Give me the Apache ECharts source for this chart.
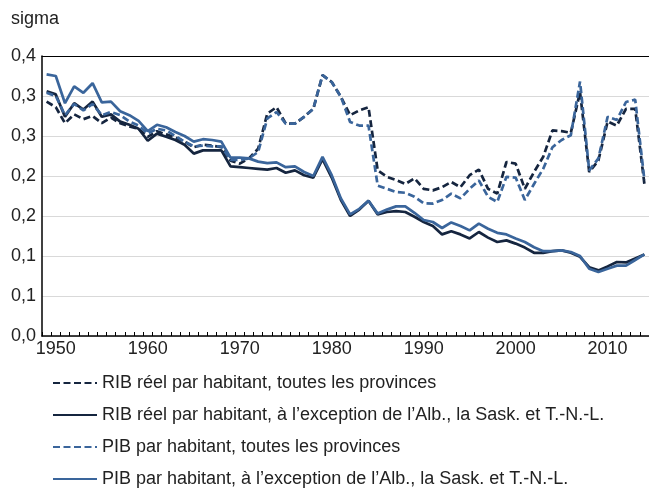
<!DOCTYPE html>
<html>
<head>
<meta charset="utf-8">
<script src="https://cdn.jsdelivr.net/npm/echarts@6/dist/echarts.min.js"></script>
<style>
  html, body { margin: 0; padding: 0; background: #fff; }
  #chart { width: 649px; height: 492px; }
</style>
</head>
<body>
<div id="chart"></div>
<script>
// annees 1949-2014
var years = [];
for (var y = 1949; y <= 2014; y++) { years.push(String(y)); }

// etiquettes de l'axe vertical (arrondies comme dans l'original)
var yLabels = ['0,0', '0,1', '0,1', '0,2', '0,2', '0,3', '0,3', '0,4'];

var seriesNames = [
    'RIB réel par habitant, toutes les provinces',
    'RIB réel par habitant, à l’exception de l’Alb., la Sask. et T.-N.-L.',
    'PIB par habitant, toutes les provinces',
    'PIB par habitant, à l’exception de l’Alb., la Sask. et T.-N.-L.'
];

// RIB reel, toutes les provinces
var ribAll = [
    0.293, 0.286, 0.266, 0.277, 0.271, 0.275, 0.266, 0.273, 0.266, 0.262,
    0.259, 0.249, 0.256, 0.252, 0.248, 0.243, 0.236, 0.239, 0.238, 0.236,
    0.219, 0.2155, 0.222, 0.234, 0.278, 0.286, 0.2655, 0.2655, 0.274, 0.284,
    0.326, 0.3175, 0.299, 0.276, 0.282, 0.286, 0.207, 0.199, 0.195, 0.190,
    0.197, 0.184, 0.182, 0.186, 0.1925, 0.186, 0.201, 0.208, 0.184, 0.178,
    0.2175, 0.2155, 0.184, 0.205, 0.224, 0.257, 0.256, 0.254, 0.305, 0.205,
    0.2195, 0.268, 0.263, 0.284, 0.284, 0.190
];

// RIB reel, sans Alb., Sask., T.-N.-L.
var ribExcl = [
    0.306, 0.302, 0.274, 0.291, 0.283, 0.293, 0.274, 0.277, 0.268, 0.264,
    0.259, 0.244, 0.253, 0.249, 0.245, 0.239, 0.228, 0.232, 0.232, 0.232,
    0.212, 0.211, 0.210, 0.209, 0.208, 0.210, 0.204, 0.207, 0.201, 0.198,
    0.221, 0.198, 0.170, 0.150, 0.158, 0.169, 0.152, 0.155, 0.156, 0.155,
    0.149, 0.1425, 0.1375, 0.127, 0.131, 0.127, 0.122, 0.130, 0.123, 0.1175,
    0.1195, 0.1155, 0.1105, 0.104, 0.104, 0.106, 0.107, 0.104, 0.099, 0.086,
    0.082, 0.087, 0.0925, 0.092, 0.097, 0.102
];

// PIB, toutes les provinces
var pibAll = [
    0.304, 0.300, 0.276, 0.290, 0.282, 0.290, 0.276, 0.280, 0.276, 0.268,
    0.263, 0.253, 0.259, 0.257, 0.250, 0.243, 0.237, 0.238, 0.237, 0.237,
    0.220, 0.220, 0.222, 0.230, 0.272, 0.280, 0.2655, 0.2655, 0.274, 0.284,
    0.326, 0.3175, 0.299, 0.2675, 0.263, 0.263, 0.188, 0.184, 0.180, 0.179,
    0.174, 0.166, 0.1655, 0.170, 0.178, 0.172, 0.184, 0.1945, 0.174, 0.1675,
    0.199, 0.198, 0.170, 0.190, 0.209, 0.236, 0.245, 0.251, 0.318, 0.207,
    0.222, 0.274, 0.270, 0.2925, 0.2955, 0.195
];

// PIB, sans Alb., Sask., T.-N.-L.
var pibExcl = [
    0.327, 0.325, 0.291, 0.312, 0.304, 0.316, 0.292, 0.293, 0.281, 0.276,
    0.269, 0.256, 0.264, 0.261, 0.255, 0.250, 0.243, 0.246, 0.245, 0.243,
    0.223, 0.223, 0.222, 0.218, 0.216, 0.217, 0.211, 0.212, 0.205, 0.200,
    0.224, 0.201, 0.172, 0.152, 0.159, 0.169, 0.153, 0.158, 0.162, 0.162,
    0.154, 0.145, 0.1425, 0.135, 0.142, 0.1375, 0.132, 0.1405, 0.134, 0.129,
    0.127, 0.122, 0.1175, 0.111, 0.106, 0.106, 0.107, 0.105, 0.100, 0.084,
    0.080, 0.084, 0.088, 0.088, 0.095, 0.102
];

var dark = '#15253f';
var blue = '#3a659b';
var font = 'Liberation Sans, Arial, sans-serif';

var myChart = echarts.init(document.getElementById('chart'));

function lineSerie(name, data, color, dashed) {
    return {
        name: name,
        type: 'line',
        data: data,
        symbol: 'none',
        color: color,
        lineStyle: {
            color: color,
            width: 2.7,
            type: dashed ? [7, 3.5] : 'solid'
        }
    };
}

var option = {
    animation: false,
    title: {
        text: 'sigma',
        left: 6,
        top: 5,
        textStyle: { fontFamily: font, fontSize: 18, fontWeight: 'normal', color: '#222' }
    },
    grid: {
        left: 42,
        right: 0,
        top: 56,
        bottom: 156
    },
    legend: {
        orient: 'vertical',
        left: 52,
        top: 373,
        padding: 0,
        itemWidth: 44,
        itemHeight: 14,
        itemGap: 12,
        itemStyle: { opacity: 0 },
        textStyle: { fontFamily: font, fontSize: 18, color: '#222', lineHeight: 20 },
        data: seriesNames
    },
    xAxis: [
        {
            type: 'category',
            data: years,
            boundaryGap: true,
            axisLine: { lineStyle: { color: '#000', width: 1.5 } },
            axisTick: { show: true, inside: true, length: 4, interval: 0, lineStyle: { color: '#000' } },
            axisLabel: {
                fontFamily: font,
                fontSize: 18,
                color: '#222',
                margin: 4,
                interval: function (i, v) { return Number(v) % 10 === 0; }
            },
            splitLine: { show: false }
        },
        {
            type: 'category',
            data: years,
            position: 'top',
            axisLine: { lineStyle: { color: '#000', width: 1.2 } },
            axisTick: { show: false },
            axisLabel: { show: false }
        }
    ],
    yAxis: {
        type: 'value',
        min: 0,
        max: 0.35,
        interval: 0.05,
        axisLine: { show: true, lineStyle: { color: '#000', width: 1.5 } },
        axisTick: { show: false },
        axisLabel: {
            fontFamily: font,
            fontSize: 18,
            color: '#222',
            margin: 6,
            formatter: function (v) { return yLabels[Math.round(v / 0.05)]; }
        },
        splitLine: { lineStyle: { color: '#d9d9d9', width: 1.2 } }
    },
    series: [
        lineSerie(seriesNames[0], ribAll, dark, true),
        lineSerie(seriesNames[1], ribExcl, dark, false),
        lineSerie(seriesNames[2], pibAll, blue, true),
        lineSerie(seriesNames[3], pibExcl, blue, false)
    ]
};

myChart.setOption(option);
window.addEventListener('resize', function () { myChart.resize(); });
</script>
</body>
</html>
